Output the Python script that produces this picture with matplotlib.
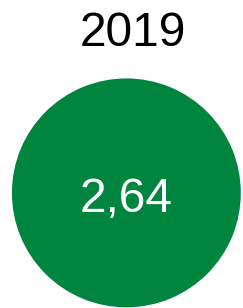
import matplotlib
matplotlib.use('Agg')
import matplotlib.pyplot as plt

year = '2019'
value = 2.64
value_label = f'{value:.2f}'.replace('.', ',')
green = '#00853F'

plt.rcParams['font.family'] = ['Liberation Sans', 'DejaVu Sans']

fig = plt.figure(figsize=(2.43, 3.08), dpi=100)
fig.text(0.545, 0.8506, year, ha='center', va='baseline', fontsize=34.5, color='black')

ax = fig.add_axes([0.049, 0.002, 0.942, 0.7435])
ax.pie([value], colors=[green], radius=1, startangle=90)
ax.set_xlim(-1, 1)
ax.set_ylim(-1, 1)
ax.set_aspect('equal')
ax.text(0, -0.166, value_label, ha='center', va='baseline', fontsize=34.5, color='white')

fig.savefig('out.png', dpi=100)
